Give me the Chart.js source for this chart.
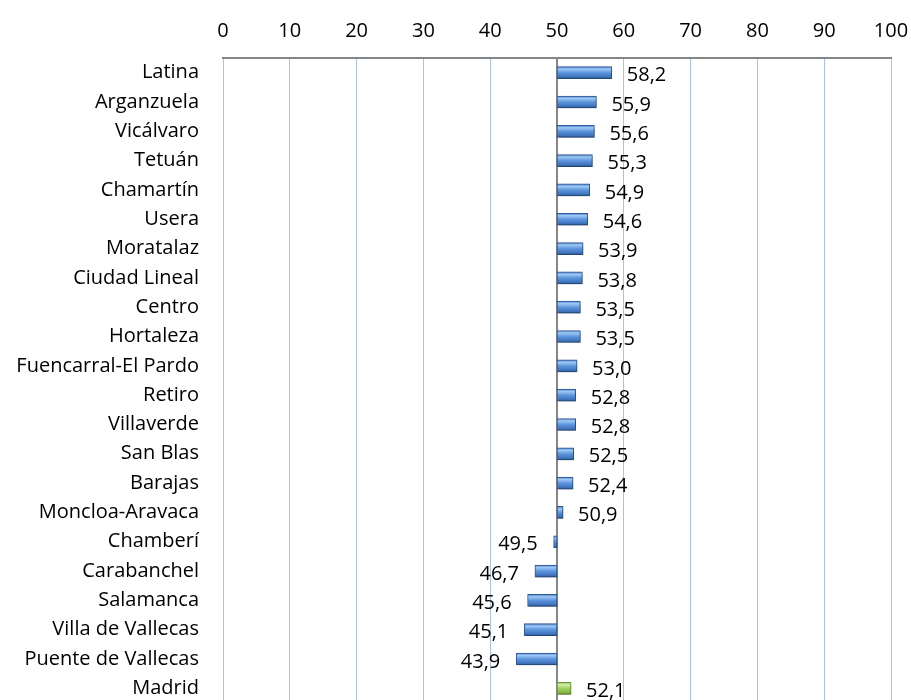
<!DOCTYPE html>
<html>
<head>
<meta charset="utf-8">
<script src="https://cdn.jsdelivr.net/npm/chart.js@4"></script>
<style>
  html, body { margin: 0; padding: 0; background: #fff; overflow: hidden; }
  #wrap { width: 911px; height: 704px; }
</style>
</head>
<body>
<div id="wrap"><canvas id="chart" width="911" height="704"></canvas></div>
<script>
// districts, top to bottom
const districts = ['Latina', 'Arganzuela', 'Vicálvaro', 'Tetuán', 'Chamartín', 'Usera', 'Moratalaz',
    'Ciudad Lineal', 'Centro', 'Hortaleza', 'Fuencarral-El Pardo', 'Retiro', 'Villaverde', 'San Blas',
    'Barajas', 'Moncloa-Aravaca', 'Chamberí', 'Carabanchel', 'Salamanca', 'Villa de Vallecas',
    'Puente de Vallecas', 'Madrid'];
const values = [58.2, 55.9, 55.6, 55.3, 54.9, 54.6, 53.9, 53.8, 53.5, 53.5, 53.0, 52.8, 52.8, 52.5,
    52.4, 50.9, 49.5, 46.7, 45.6, 45.1, 43.9, 52.1];
const baseValue = 50; // bars start from 50
const axisMin = 0;
const axisMax = 100;
const axisStep = 10;

const FONT = "'Open Sans', sans-serif";
const BAR_H = 12;

function barFill(context) {
    const chart = context.chart;
    const yScale = chart.scales.y;
    const isMadrid = districts[context.dataIndex] === 'Madrid';
    if (!yScale || !chart.chartArea) return isMadrid ? '#92c94a' : '#4a80c8';
    const y = yScale.getPixelForValue(context.dataIndex);
    const g = chart.ctx.createLinearGradient(0, y - BAR_H / 2, 0, y + BAR_H / 2);
    if (isMadrid) {
        g.addColorStop(0, '#8fc24e');
        g.addColorStop(0.2, '#d4eeab');
        g.addColorStop(0.5, '#9ed25a');
        g.addColorStop(0.85, '#83b843');
        g.addColorStop(1, '#6a9a33');
    } else {
        g.addColorStop(0, '#4a7bbf');
        g.addColorStop(0.2, '#9fc8f6');
        g.addColorStop(0.5, '#5d96de');
        g.addColorStop(0.85, '#3f74bd');
        g.addColorStop(1, '#2b5592');
    }
    return g;
}

// shadow under the bars
const barShadow = {
    id: 'barShadow',
    beforeDatasetsDraw(chart) {
        const ctx = chart.ctx;
        ctx.save();
        ctx.shadowColor = 'rgba(0,0,0,0.35)';
        ctx.shadowBlur = 3;
        ctx.shadowOffsetX = 1;
        ctx.shadowOffsetY = 2;
    },
    afterDatasetsDraw(chart) {
        chart.ctx.restore();
    }
};

// value labels next to the bar ends
const valueLabels = {
    id: 'valueLabels',
    afterDatasetsDraw(chart) {
        const ctx = chart.ctx;
        const xScale = chart.scales.x;
        const meta = chart.getDatasetMeta(0);
        ctx.save();
        ctx.font = '20px ' + FONT;
        ctx.fillStyle = '#000';
        ctx.textBaseline = 'middle';
        meta.data.forEach((bar, i) => {
            const v = values[i];
            const end = xScale.getPixelForValue(v);
            const text = v.toFixed(1).replace('.', ',');
            if (v >= baseValue) {
                ctx.textAlign = 'left';
                ctx.fillText(text, end + 15, bar.y + 3);
            } else {
                ctx.textAlign = 'right';
                ctx.fillText(text, end - 16, bar.y + 3);
            }
        });
        ctx.restore();
    }
};

new Chart(document.getElementById('chart'), {
    type: 'bar',
    data: {
        labels: districts,
        datasets: [{
            data: values.map(v => [baseValue, v]),
            backgroundColor: barFill,
            borderColor: ctx => districts[ctx.dataIndex] === 'Madrid' ? '#6a9a33' : '#2f5b98',
            borderWidth: 1,
            borderSkipped: false,
            barThickness: BAR_H
        }]
    },
    options: {
        indexAxis: 'y',
        responsive: false,
        animation: false,
        layout: { padding: { left: 0, right: 20, top: 0, bottom: 1 } },
        plugins: {
            legend: { display: false },
            tooltip: { enabled: false }
        },
        scales: {
            x: {
                position: 'top',
                min: axisMin,
                max: axisMax,
                afterFit: scale => {
                    scale.height = 58;
                    scale.paddingLeft = 0;
                    scale.paddingRight = 0;
                },
                ticks: {
                    stepSize: axisStep,
                    color: '#000',
                    padding: 15,
                    font: { family: FONT, size: 20 }
                },
                grid: {
                    drawTicks: false,
                    color: c => c.tick && c.tick.value === baseValue ? '#868686' : '#a9c2ec',
                    lineWidth: c => c.tick && c.tick.value === baseValue ? 2 : 1
                },
                border: { display: true, color: '#868686', width: 2 }
            },
            y: {
                afterFit: scale => {
                    scale.width = 223;
                    scale.paddingTop = 0;
                    scale.paddingBottom = 0;
                },
                ticks: {
                    color: '#000',
                    padding: 24,
                    font: { family: FONT, size: 20 }
                },
                grid: { display: false, drawTicks: false },
                border: { display: false }
            }
        }
    },
    plugins: [barShadow, valueLabels]
});
</script>
</body>
</html>
